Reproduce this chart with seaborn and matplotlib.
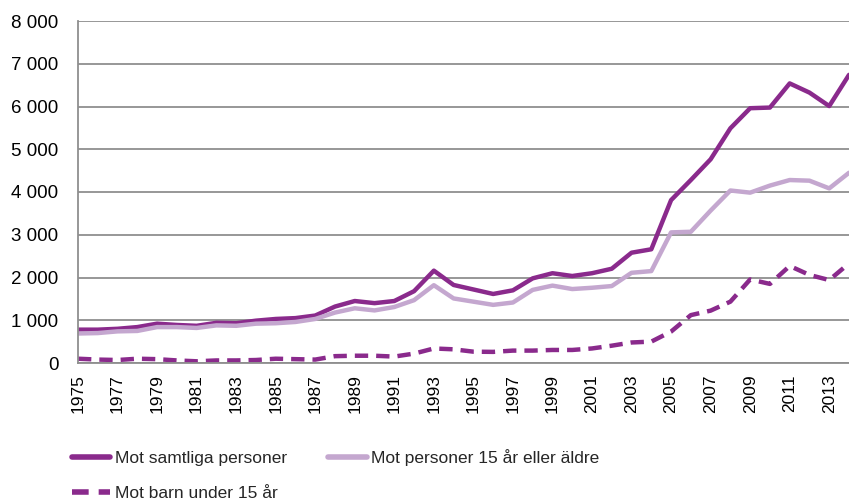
import numpy as np
import pandas as pd
import seaborn as sns
import matplotlib

matplotlib.use("Agg")
import matplotlib.pyplot as plt
from matplotlib.ticker import FuncFormatter, MultipleLocator

years = list(range(1975, 2015))

# Mot samtliga personer
samtliga = [780, 780, 800, 840, 920, 890, 870, 940, 930, 990,
            1030, 1050, 1110, 1320, 1450, 1400, 1450, 1680, 2160, 1825,
            1720, 1615, 1700, 1980, 2100, 2035, 2100, 2205, 2580, 2660,
            3810, 4280, 4765, 5490, 5960, 5975, 6540, 6325, 6010, 6740]

# Mot personer 15 år eller äldre
aldre = [690, 700, 740, 750, 840, 840, 820, 880, 870, 920,
         930, 960, 1030, 1180, 1280, 1230, 1310, 1470, 1820, 1510,
         1435, 1360, 1415, 1710, 1810, 1730, 1760, 1800, 2110, 2150,
         3055, 3070, 3565, 4035, 3985, 4150, 4280, 4265, 4085, 4450]

# Mot barn under 15 år
barn = [100, 80, 70, 100, 90, 60, 40, 60, 60, 70,
        100, 90, 80, 160, 170, 170, 150, 220, 340, 320,
        265, 260, 290, 290, 305, 305, 340, 405, 480, 500,
        735, 1120, 1225, 1435, 1955, 1850, 2270, 2060, 1940, 2330]

labels = ["Mot samtliga personer", "Mot personer 15 år eller äldre", "Mot barn under 15 år"]

df = pd.DataFrame({"year": years, labels[0]: samtliga, labels[1]: aldre, labels[2]: barn})

sns.set_style("white")
plt.rcParams["font.family"] = ["Liberation Sans", "DejaVu Sans"]

dark = "#8a2a8c"
light = "#c4a7cf"
gridc = "#8f8f8f"

fig = plt.figure(figsize=(8.49, 5.01), dpi=100)
ax = fig.add_axes([78 / 849, 138 / 501, 771 / 849, 342 / 501])

sns.lineplot(data=df, x="year", y=labels[0], ax=ax, color=dark, lw=3.2, label=labels[0])
sns.lineplot(data=df, x="year", y=labels[1], ax=ax, color=light, lw=3.2, label=labels[1])
sns.lineplot(data=df, x="year", y=labels[2], ax=ax, color=dark, lw=3.2, label=labels[2],
             dashes=False)
ax.lines[2].set_dashes((3.0, 1.8))

ax.set_xlim(1975, 2014)
ax.set_ylim(0, 8000)
ax.yaxis.set_major_locator(MultipleLocator(1000))
ax.yaxis.set_major_formatter(FuncFormatter(lambda v, p: f"{int(v):,}".replace(",", " ")))
ax.set_xticks(years)
ax.set_xticklabels([str(y) if (y - 1975) % 2 == 0 else "" for y in years], rotation=90)

ax.grid(axis="y", color=gridc, lw=1.3)
ax.set_axisbelow(True)
ax.set_xlabel("")
ax.set_ylabel("")
for s in ["top", "right"]:
    ax.spines[s].set_visible(False)
for s in ["left", "bottom"]:
    ax.spines[s].set_color(gridc)
    ax.spines[s].set_linewidth(1.3)

ax.tick_params(axis="y", length=0, labelsize=13.5, pad=14, colors="black")
ax.tick_params(axis="x", length=6, width=1.2, color=gridc, labelsize=12.5, pad=2, labelcolor="black")

# legend: row 1 = samtliga, 15+ ; row 2 = barn
h, l = ax.get_legend_handles_labels()
order = [0, 2, 1]
leg = ax.legend([h[i] for i in order], [l[i] for i in order], ncol=2, frameon=False,
                loc="upper left", bbox_to_anchor=(-0.028, -0.205), fontsize=12.5,
                handlelength=2.2, handletextpad=0.25, columnspacing=2.4, labelspacing=1.15)
for line in leg.get_lines():
    line.set_linewidth(4)

fig.savefig("out.png", dpi=100)
